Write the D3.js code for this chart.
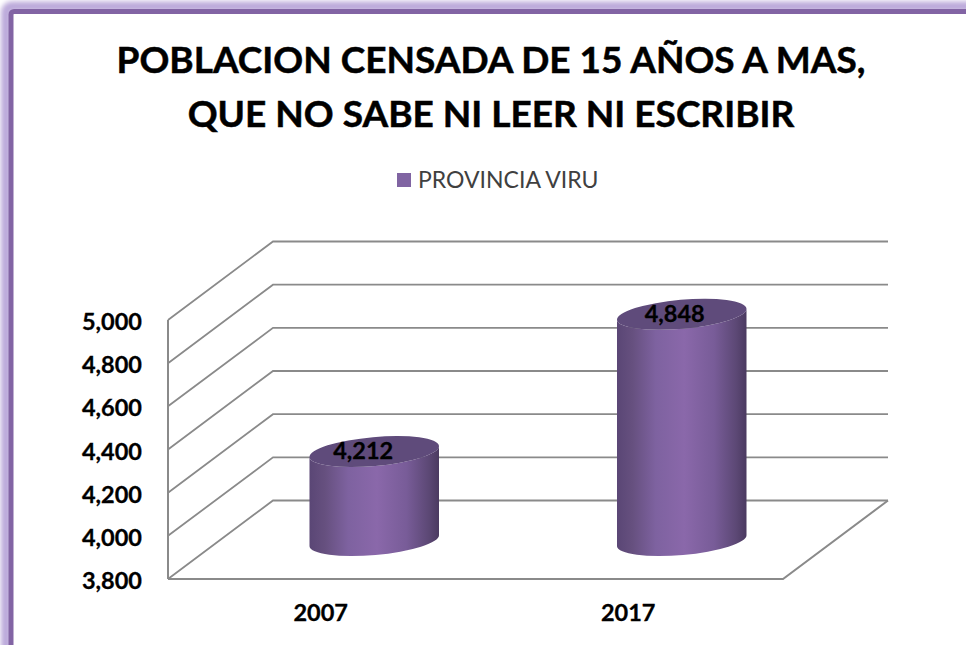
<!DOCTYPE html>
<html><head><meta charset="utf-8">
<style>html,body{margin:0;padding:0;background:#fff}svg{display:block}text{font-family:Lato,"Open Sans",sans-serif}</style>
<script src="https://cdn.jsdelivr.net/npm/d3@7"></script></head><body>
<script>
const titleLines = ["POBLACION CENSADA DE 15 AÑOS A MAS,", "QUE NO SABE NI LEER NI ESCRIBIR"];
const seriesName = "PROVINCIA VIRU";
const categories = ["2007", "2017"];
const values = [4212, 4848];
const valueLabels = ["4,212", "4,848"];
const tickValues = [3800, 4000, 4200, 4400, 4600, 4800, 5000];

const W = 966, H = 645;
const svg = d3.select("body").append("svg").attr("width", W).attr("height", H);
const defs = svg.append("defs");

// frame
const f = defs.append("filter").attr("id","glow").attr("x","-5%").attr("y","-5%").attr("width","110%").attr("height","110%");
f.append("feGaussianBlur").attr("stdDeviation", 2.6);
svg.append("rect").attr("x",6).attr("y",6.5).attr("width",W+40).attr("height",H+40).attr("rx",6)
  .attr("fill","none").attr("stroke","#bba9da").attr("stroke-width",10).attr("filter","url(#glow)");
svg.append("rect").attr("x",11).attr("y",11.5).attr("width",W+40).attr("height",H+40).attr("rx",3)
  .attr("fill","#fff").attr("stroke","#8264a4").attr("stroke-width",5);

// title + legend
svg.append("g").selectAll("text").data(titleLines).join("text")
  .attr("x",491).attr("y",(d,i)=>73+i*54).attr("text-anchor","middle")
  .attr("font-size",37).attr("font-weight",700).attr("fill","#000")
  .attr("stroke","#000").attr("stroke-width",0.5).text(d=>d);
svg.append("rect").attr("x",397).attr("y",173).attr("width",14).attr("height",14).attr("fill","#8064a2");
svg.append("text").attr("x",418).attr("y",188).attr("font-size",23).attr("fill","#404040").text(seriesName);

// scales
const floorX = 168, floorR = 783, depthX = 105, depthY = -78.5;
const y = d3.scaleLinear().domain([3800,5000]).range([579,320]);
const x = d3.scaleBand().domain(categories).range([floorX,floorR]);
const grid = "#8a8a8a";

// walls and gridlines
const g = svg.append("g").attr("fill","none").attr("stroke",grid).attr("stroke-width",1.8);
tickValues.forEach(v=>{
  const p = d3.path();
  p.moveTo(floorX,y(v)); p.lineTo(floorX+depthX,y(v)+depthY); p.lineTo(floorR+depthX,y(v)+depthY);
  g.append("path").attr("d",p.toString());
});
g.append("line").attr("x1",floorX).attr("x2",floorX).attr("y1",y(5000)).attr("y2",y(3800)).attr("stroke-width",2);
const fl = d3.path();
fl.moveTo(floorX,y(3800)); fl.lineTo(floorR,y(3800)); fl.lineTo(floorR+depthX,y(3800)+depthY);
g.append("path").attr("d",fl.toString()).attr("stroke-width",2);

// cylinders
const gr = defs.append("linearGradient").attr("id","cyl");
[[0,"#5a4675"],[0.12,"#66507f"],[0.3,"#7e62a0"],[0.52,"#8a68aa"],[0.75,"#785c98"],[0.92,"#5c4875"],[1,"#4b3a60"]]
  .forEach(s=>gr.append("stop").attr("offset",s[0]).attr("stop-color",s[1]));
const rx = 65, ry = 14.5, tilt = -5, baseDX = 52.5, baseDY = -38.5;
const rad = tilt*Math.PI/180;
const ex = rx*Math.cos(rad), ey = rx*Math.sin(rad);
const nudges = [-11,-7];
categories.forEach((c,i)=>{
  const cx = x(c)+x.bandwidth()/2+baseDX, by = y(3800)+baseDY, ty = y(values[i])+baseDY;
  const d = `M${cx-ex},${ty-ey} L${cx-ex},${by-ey} A${rx},${ry} ${tilt} 0 0 ${cx+ex},${by+ey} L${cx+ex},${ty+ey} A${rx},${ry} ${tilt} 0 1 ${cx-ex},${ty-ey} Z`;
  svg.append("path").attr("d",d).attr("fill","url(#cyl)");
  svg.append("ellipse").attr("cx",cx).attr("cy",ty).attr("rx",rx).attr("ry",ry)
    .attr("transform",`rotate(${tilt} ${cx} ${ty})`).attr("fill","#5f4b7b");
  svg.append("text").attr("x",cx+nudges[i]).attr("y",ty+7.5).attr("text-anchor","middle")
    .attr("font-size",23.5).attr("font-weight",700).attr("fill","#000").attr("stroke","#000").attr("stroke-width",0.3).text(valueLabels[i]);
});

// axes
const yAxis = svg.append("g").attr("transform","translate(142,2)")
  .call(d3.axisLeft(y).tickValues(tickValues).tickSize(0).tickPadding(0).tickFormat(d3.format(",")));
yAxis.select(".domain").remove();
yAxis.selectAll("text").attr("font-size",23.5).attr("font-weight",700).attr("fill","#000").attr("stroke","#000").attr("stroke-width",0.3).style("font-family","Lato");
const xAxis = svg.append("g").attr("transform","translate(-1,613)")
  .call(d3.axisBottom(x).tickSize(0).tickPadding(0));
xAxis.select(".domain").remove();
xAxis.selectAll("text").attr("font-size",23.5).attr("font-weight",700).attr("fill","#000").attr("stroke","#000").attr("stroke-width",0.3).attr("dy","0.32em").attr("y",0).style("font-family","Lato");
</script></body></html>
